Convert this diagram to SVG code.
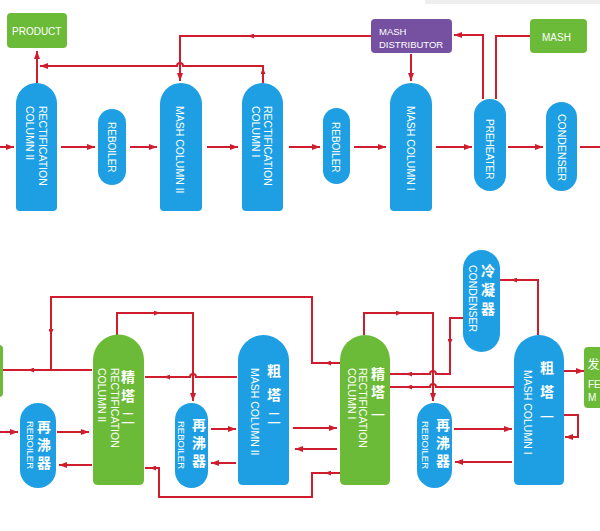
<svg xmlns="http://www.w3.org/2000/svg" width="600" height="531" viewBox="0 0 600 531">
<style>
.b{fill:#1e9fe3}
.g{fill:#6cbb38}
.p{fill:#7651a1}
.ln{fill:none;stroke:#cf1d2e;stroke-width:2}
.ar{fill:none;stroke:#cf1d2e;stroke-width:2;marker-end:url(#a)}
.mk{fill:none;stroke:#cf1d2e;stroke-width:2;marker-end:url(#m)}
.t{fill:#fff;font-family:"Liberation Sans",Arial,sans-serif;font-size:10.5px}
.s{font-size:10px}
.c{fill:#fff;font-family:"Noto Sans CJK SC",sans-serif;font-size:14px;font-weight:normal;text-anchor:middle}
.v{fill:#fff;font-family:"Noto Sans CJK SC",sans-serif;font-size:14px;font-weight:bold;writing-mode:vertical-rl;text-orientation:upright;letter-spacing:4px}
.n{font-weight:normal}
</style>
<defs>
<marker id="a" viewBox="0 0 8 6" refX="8" refY="3" markerWidth="8" markerHeight="6" markerUnits="userSpaceOnUse" orient="auto"><path d="M0,0 L8,3 L0,6 z" fill="#cf1d2e"/></marker>
<marker id="m" viewBox="0 0 6 5" refX="4" refY="2.5" markerWidth="6" markerHeight="5" markerUnits="userSpaceOnUse" orient="auto"><path d="M0,0 L6,2.5 L0,5 z" fill="#cf1d2e"/></marker>
</defs>
<rect x="0" y="0" width="600" height="531" fill="#fff"/>
<rect x="425" y="0" width="175" height="4" fill="#eeeeee"/>

<g id="connectors">
<path class="ar" d="M0 147 L14 147"/>
<path class="ar" d="M61 147 L95 147"/>
<path class="ar" d="M130 147 L157 147"/>
<path class="ar" d="M207 147 L238 147"/>
<path class="ar" d="M289 147 L320 147"/>
<path class="ar" d="M354 147 L386 147"/>
<path class="ar" d="M436 147 L472 147"/>
<path class="ar" d="M508 147 L543 147"/>
<path class="ln" d="M580 147 L600 147"/>
<path class="ar" d="M37 83 L37 51"/>
<path class="ar" d="M263 83 L263 66 L183 66 A3 3 0 0 0 177 66 L40 66"/>
<path class="mk" d="M263 72 L263 70"/>
<path class="ar" d="M371 36 L180 36 L180 81"/>
<path class="mk" d="M252 36 L250 36"/>
<path class="ar" d="M411 54 L411 81"/>
<path class="ar" d="M483 99 L483 35 L454 35"/>
<path class="ln" d="M530 36 L496 36 L496 99"/>
<path class="ln" d="M3 370 L92 370"/>
<path class="mk" d="M32 370 L30 370"/>
<path class="ln" d="M340 363 L312 363 L312 297 L51 297 L51 370"/>
<path class="mk" d="M329 363 L327 363"/>
<path class="mk" d="M51 331 L51 333"/>
<path class="ar" d="M117 335 L117 313 L193 313 L193 401"/>
<path class="mk" d="M156 313 L158 313"/>
<path class="ln" d="M237 377 L196 377 A3 3 0 0 0 190 377 L145 377"/>
<path class="mk" d="M168 377 L166 377"/>
<path class="ar" d="M0 432 L18 432"/>
<path class="ar" d="M57 432 L89 432"/>
<path class="ar" d="M92 465 L59 465"/>
<path class="ln" d="M340 473 L312 473 L312 497 L159 497 L159 468 L145 468"/>
<path class="mk" d="M329 473 L327 473"/>
<path class="mk" d="M154 468 L152 468"/>
<path class="ar" d="M211 429 L236 429"/>
<path class="ar" d="M236 463 L211 463"/>
<path class="ar" d="M293 428 L337 428"/>
<path class="ar" d="M337 449 L295 449"/>
<path class="ar" d="M364 335 L364 313 L433 313 L433 401"/>
<path class="mk" d="M398 313 L400 313"/>
<path class="ln" d="M390 374 L430 374 A3 3 0 0 1 436 374 L450 374 L450 318 L463 318"/>
<path class="mk" d="M410 374 L408 374"/>
<path class="mk" d="M450 341 L450 343"/>
<path class="ln" d="M514 387 L436 387 A3 3 0 0 0 430 387 L390 387"/>
<path class="mk" d="M410 387 L408 387"/>
<path class="ln" d="M500 280 L538 280 L538 335"/>
<path class="mk" d="M515 280 L513 280"/>
<path class="ar" d="M454 429 L512 429"/>
<path class="ar" d="M512 462 L455 462"/>
<path class="ar" d="M564 371 L584 371"/>
<path class="ar" d="M564 415 L578 415 L578 437 L565 437"/>
</g>

<g id="product"><rect class="g" x="7" y="13" width="60" height="35" rx="4"/><text class="t s" x="12" y="35">PRODUCT</text></g>
<g id="mash-distributor"><rect class="p" x="371" y="19" width="81" height="34" rx="4"/><text class="t" style="font-size:9.5px" x="379" y="34.5">MASH</text><text class="t" style="font-size:9.5px" x="379" y="47.5">DISTRIBUTOR</text></g>
<g id="mash"><rect class="g" x="530" y="19" width="57" height="34" rx="4"/><text class="t s" x="542" y="40.5">MASH</text></g>

<g id="rect-col-2-top"><path class="b" d="M16 103.5 A20.5 20.5 0 0 1 57 103.5 L57 207 Q57 211 53 211 L20 211 Q16 211 16 207 Z"/>
<text class="t" transform="translate(39.2,106) rotate(90)">RECTIFICATION</text><text class="t" transform="translate(26,106) rotate(90)">COLUMN II</text></g>
<g id="reboiler-top-1"><rect class="b" x="98" y="109" width="28" height="76" rx="14"/><text class="t s" transform="translate(108.4,122) rotate(90)">REBOILER</text></g>
<g id="mash-col-2-top"><path class="b" d="M160 104 A21 21 0 0 1 202 104 L202 207 Q202 211 198 211 L164 211 Q160 211 160 207 Z"/>
<text class="t" transform="translate(176.3,106) rotate(90)">MASH COLUMN II</text></g>
<g id="rect-col-1-top"><path class="b" d="M242 103.5 A20.5 20.5 0 0 1 283 103.5 L283 207 Q283 211 279 211 L246 211 Q242 211 242 207 Z"/>
<text class="t" transform="translate(264.3,106) rotate(90)">RECTIFICATION</text><text class="t" transform="translate(252.3,106) rotate(90)">COLUMN I</text></g>
<g id="reboiler-top-2"><rect class="b" x="323" y="108" width="27" height="76" rx="13.5"/><text class="t s" transform="translate(332.4,122) rotate(90)">REBOILER</text></g>
<g id="mash-col-1-top"><path class="b" d="M390 104 A21 21 0 0 1 432 104 L432 207 Q432 211 428 211 L394 211 Q390 211 390 207 Z"/>
<text class="t" transform="translate(407.3,106) rotate(90)">MASH COLUMN I</text></g>
<g id="preheater"><rect class="b" x="474" y="99" width="32" height="92" rx="16"/><text class="t s" transform="translate(485.5,119) rotate(90)">PREHEATER</text></g>
<g id="condenser-top"><rect class="b" x="546" y="102" width="31" height="89" rx="15.5"/><text class="t" transform="translate(558.3,114) rotate(90)">CONDENSER</text></g>

<g id="left-green"><rect class="g" x="-10" y="345" width="13" height="52" rx="4"/></g>
<g id="reboiler-a"><rect class="b" x="20" y="403" width="36" height="85" rx="18"/>
<text class="t" style="font-size:9.5px" transform="translate(26.6,421) rotate(90)">REBOILER</text>
<text class="v" x="44" y="420">再沸器</text></g>
<g id="rect-col-2"><path class="g" d="M93 360 A25.5 25.5 0 0 1 144 360 L144 480 Q144 485 139 485 L98 485 Q93 485 93 480 Z"/>
<text class="t" transform="translate(111.2,368) rotate(90)">RECTIFICATION</text><text class="t" transform="translate(98.3,368) rotate(90)">COLUMN II</text>
<text class="v" style="letter-spacing:5px" x="128" y="370">精塔</text><text class="c" x="128" y="423">二</text></g>
<g id="reboiler-b"><rect class="b" x="175" y="403" width="33" height="85" rx="16.5"/>
<text class="t" style="font-size:9.5px" transform="translate(177.6,421) rotate(90)">REBOILER</text>
<text class="v" x="199" y="418">再沸器</text></g>
<g id="mash-col-2"><path class="b" d="M238 360.5 A25.5 25.5 0 0 1 289 360.5 L289 480 Q289 485 284 485 L243 485 Q238 485 238 480 Z"/>
<text class="t" transform="translate(251.3,368) rotate(90)">MASH COLUMN II</text>
<text class="v" style="letter-spacing:10px" x="274" y="364">粗塔</text><text class="c" x="274" y="423">二</text></g>
<g id="rect-col-1"><path class="g" d="M340 360 A25 25 0 0 1 390 360 L390 480 Q390 485 385 485 L345 485 Q340 485 340 480 Z"/>
<text class="t" transform="translate(359.3,368) rotate(90)">RECTIFICATION</text><text class="t" transform="translate(348.3,368) rotate(90)">COLUMN I</text>
<text class="v" x="378" y="367">精塔</text><text class="c" x="378" y="420">一</text></g>
<g id="condenser"><rect class="b" x="463" y="250" width="37" height="102" rx="18.5"/>
<text class="t" transform="translate(469.3,265) rotate(90)">CONDENSER</text>
<text class="v" style="letter-spacing:5px" x="488" y="264">冷凝器</text></g>
<g id="reboiler-c"><rect class="b" x="417" y="403" width="35" height="85" rx="17.5"/>
<text class="t" style="font-size:9.5px" transform="translate(421.6,421) rotate(90)">REBOILER</text>
<text class="v" x="443" y="418">再沸器</text></g>
<g id="mash-col-1"><path class="b" d="M514 360 A25 25 0 0 1 564 360 L564 480 Q564 485 559 485 L519 485 Q514 485 514 480 Z"/>
<text class="t" transform="translate(524.3,370) rotate(90)">MASH COLUMN I</text>
<text class="v" style="letter-spacing:10px" x="547" y="361">粗塔</text><text class="c" x="547" y="422">一</text></g>
<g id="right-green"><rect class="g" x="584" y="347" width="26" height="61" rx="4"/>
<text class="c" style="font-size:12px;text-anchor:start" x="587.5" y="369">发</text>
<text class="t s" x="588" y="388">FE</text><text class="t s" x="588" y="401">M</text></g>
</svg>
